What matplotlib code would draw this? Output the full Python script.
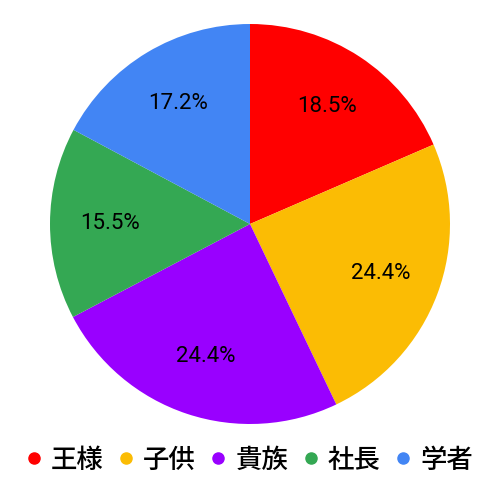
import matplotlib
matplotlib.use('Agg')
import matplotlib.pyplot as plt
from matplotlib.lines import Line2D

labels = ['王様', '子供', '貴族', '社長', '学者']
values = [18.5, 24.4, 24.4, 15.5, 17.2]
colors = ['#ff0000', '#fbbc04', '#9900ff', '#34a853', '#4285f4']

fig = plt.figure(figsize=(5, 5), dpi=100)
ax = fig.add_axes([0.1, 0.152, 0.8, 0.8])

wedges, texts, autotexts = ax.pie(values, colors=colors, startangle=90, counterclock=False,
                                  autopct='%.1f%%', pctdistance=0.7,
                                  textprops={'family': 'Roboto', 'fontsize': 16, 'color': '#000000'})
ax.set_aspect('equal')
ax.set_xlim(-1, 1)
ax.set_ylim(-1, 1)

handles = [Line2D([], [], marker='o', linestyle='', markersize=8, color=c) for c in colors]
fig.legend(handles, labels, loc='center', bbox_to_anchor=(0.5, 0.08), ncol=5, frameon=False,
           prop={'family': ['Noto Sans CJK JP', 'DejaVu Sans'], 'size': 19, 'weight': 'medium'},
           handlelength=0.5, handletextpad=0.4, columnspacing=0.6)

fig.savefig('out.png', dpi=100)
